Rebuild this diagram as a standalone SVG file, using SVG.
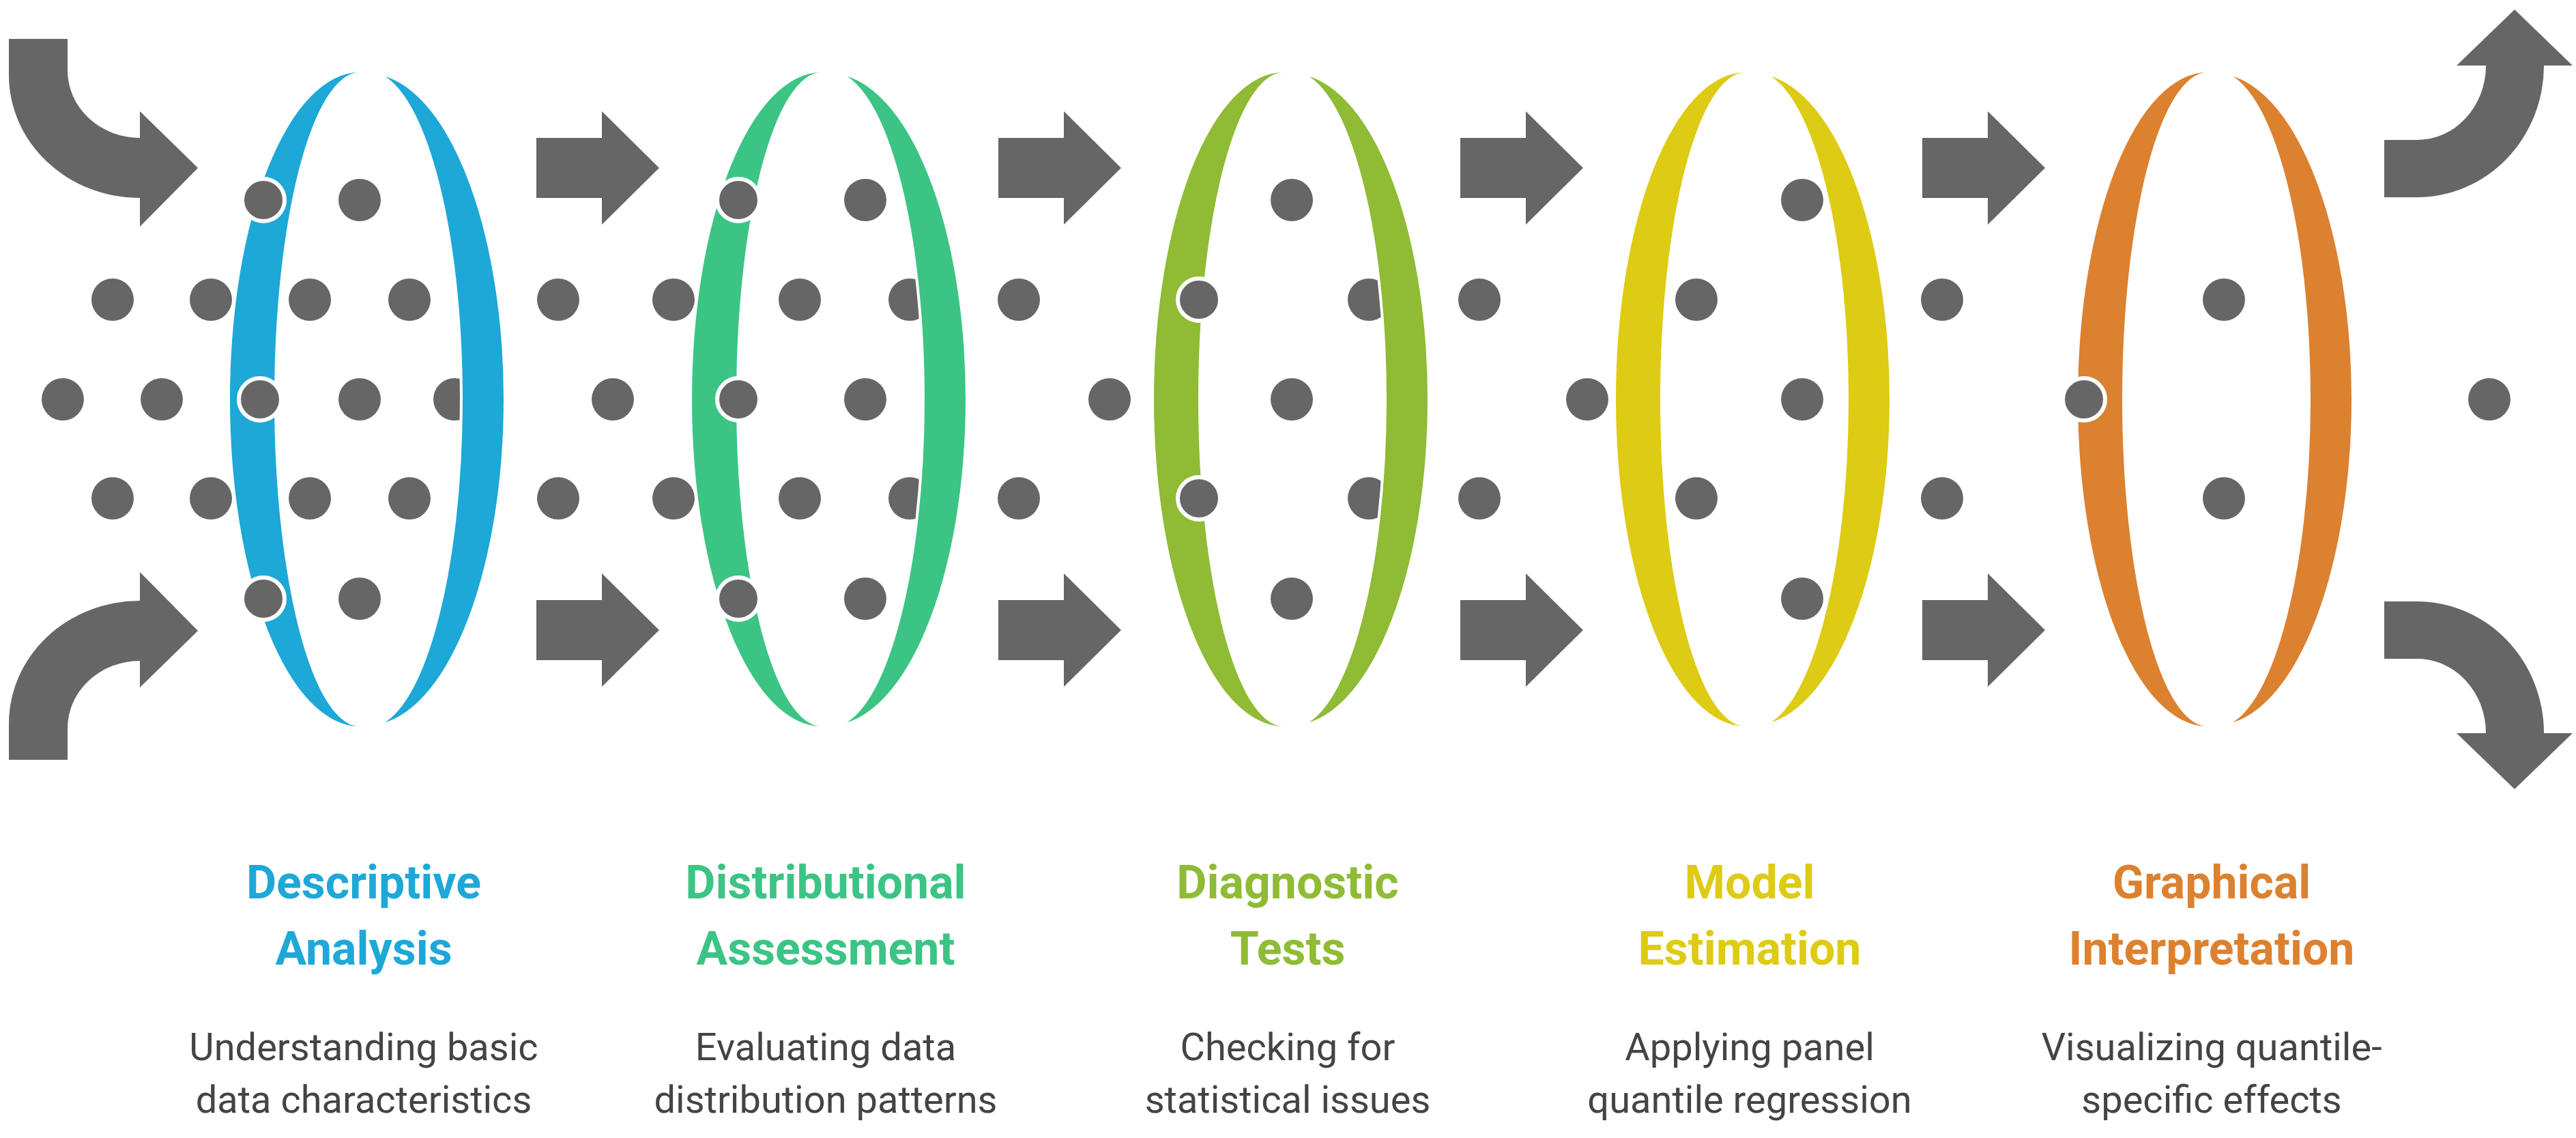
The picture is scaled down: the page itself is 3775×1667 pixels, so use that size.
<svg xmlns="http://www.w3.org/2000/svg" width="3775" height="1667" viewBox="0 0 3775 1667">
<style>
.d{fill:#666666}
.r{fill:#666666;stroke:#ffffff;stroke-width:6}
.a{fill:#666666}
.t{font-family:Roboto,"Liberation Sans",sans-serif;font-weight:bold;font-size:68px;text-anchor:middle}
.s{font-family:Roboto,"Liberation Sans",sans-serif;font-size:56px;fill:#444444;text-anchor:middle}
</style>
<defs>
<path id="lc" d="M-6,-479 A190,479 0 0 0 -6,479 A125,479 0 0 1 -6,-479 Z"/>
<path id="rc" d="M6,-479 A201,479 0 0 1 6,479 A137,479 0 0 0 6,-479 Z"/>
<path id="sa" d="M0,-44 H96 V-83 L180,0 L96,83 V44 H0 Z"/>
<circle id="dt" r="31"/>
</defs>
<rect width="3775" height="1667" fill="#ffffff"/>
<g id="connectors">
<path class="a" d="M13,57 H99 V103 A106,99 0 0 0 205,202 V163 L290,246 L205,332 V290 A192,180 0 0 1 13,110 Z"/>
<path class="a" transform="translate(0,1170) scale(1,-1)" d="M13,57 H99 V103 A106,99 0 0 0 205,202 V163 L290,246 L205,332 V290 A192,180 0 0 1 13,110 Z"/>
<use href="#sa" class="a" x="786" y="246"/><use href="#sa" class="a" x="786" y="923"/>
<use href="#sa" class="a" x="1463" y="246"/><use href="#sa" class="a" x="1463" y="923"/>
<use href="#sa" class="a" x="2140" y="246"/><use href="#sa" class="a" x="2140" y="923"/>
<use href="#sa" class="a" x="2817" y="246"/><use href="#sa" class="a" x="2817" y="923"/>
<path class="a" d="M3494,205 H3542 A101,109 0 0 0 3643,96 H3600 L3685,14 L3770,96 H3728 A186,193 0 0 1 3542,289 H3494 Z"/>
<path class="a" transform="translate(0,1170) scale(1,-1)" d="M3494,205 H3542 A101,109 0 0 0 3643,96 H3600 L3685,14 L3770,96 H3728 A186,193 0 0 1 3542,289 H3494 Z"/>
</g>
<g id="left-crescents">
<use href="#lc" x="533" y="585" fill="#1DA8D8"/>
<use href="#lc" x="1210" y="585" fill="#3CC484"/>
<use href="#lc" x="1887" y="585" fill="#8FBB35"/>
<use href="#lc" x="2564" y="585" fill="#DDCB14"/>
<use href="#lc" x="3241" y="585" fill="#DC8130"/>
</g>
<g id="dots">
<g class="d">
<use href="#dt" x="527" y="293"/><use href="#dt" x="1268" y="293"/><use href="#dt" x="1893" y="293"/><use href="#dt" x="2641" y="293"/>
<use href="#dt" x="527" y="877"/><use href="#dt" x="1268" y="877"/><use href="#dt" x="1893" y="877"/><use href="#dt" x="2641" y="877"/>
<use href="#dt" x="165" y="439"/><use href="#dt" x="309" y="439"/><use href="#dt" x="454" y="439"/><use href="#dt" x="600" y="439"/><use href="#dt" x="818" y="439"/><use href="#dt" x="987" y="439"/><use href="#dt" x="1172" y="439"/><use href="#dt" x="1333" y="439"/><use href="#dt" x="1493" y="439"/><use href="#dt" x="2006" y="439"/><use href="#dt" x="2168" y="439"/><use href="#dt" x="2486" y="439"/><use href="#dt" x="2846" y="439"/><use href="#dt" x="3259" y="439"/>
<use href="#dt" x="165" y="730"/><use href="#dt" x="309" y="730"/><use href="#dt" x="454" y="730"/><use href="#dt" x="600" y="730"/><use href="#dt" x="818" y="730"/><use href="#dt" x="987" y="730"/><use href="#dt" x="1172" y="730"/><use href="#dt" x="1333" y="730"/><use href="#dt" x="1493" y="730"/><use href="#dt" x="2006" y="730"/><use href="#dt" x="2168" y="730"/><use href="#dt" x="2486" y="730"/><use href="#dt" x="2846" y="730"/><use href="#dt" x="3259" y="730"/>
<use href="#dt" x="92" y="585"/><use href="#dt" x="237" y="585"/><use href="#dt" x="527" y="585"/><use href="#dt" x="666" y="585"/><use href="#dt" x="898" y="585"/><use href="#dt" x="1268" y="585"/><use href="#dt" x="1626" y="585"/><use href="#dt" x="1893" y="585"/><use href="#dt" x="2326" y="585"/><use href="#dt" x="2641" y="585"/><use href="#dt" x="3648" y="585"/>
</g>
<g class="r">
<use href="#dt" x="386" y="293"/><use href="#dt" x="386" y="877"/><use href="#dt" x="381" y="585"/>
<use href="#dt" x="1082" y="293"/><use href="#dt" x="1082" y="877"/><use href="#dt" x="1082" y="585"/>
<use href="#dt" x="1757" y="439"/><use href="#dt" x="1757" y="730"/>
<use href="#dt" x="3054" y="585"/>
</g>
</g>
<g id="right-crescents" stroke="#ffffff" stroke-width="4">
<use href="#rc" x="533" y="585" fill="#1DA8D8"/>
<use href="#rc" x="1210" y="585" fill="#3CC484"/>
<use href="#rc" x="1887" y="585" fill="#8FBB35"/>
<use href="#rc" x="2564" y="585" fill="#DDCB14"/>
<use href="#rc" x="3241" y="585" fill="#DC8130"/>
</g>
<g id="stage1"><text class="t" fill="#1DA8D8" x="533" y="1316">Descriptive</text><text class="t" fill="#1DA8D8" x="533" y="1413">Analysis</text><text class="s" x="533" y="1553">Understanding basic</text><text class="s" x="533" y="1630">data characteristics</text></g>
<g id="stage2"><text class="t" fill="#3CC484" x="1210" y="1316">Distributional</text><text class="t" fill="#3CC484" x="1210" y="1413">Assessment</text><text class="s" x="1210" y="1553">Evaluating data</text><text class="s" x="1210" y="1630">distribution patterns</text></g>
<g id="stage3"><text class="t" fill="#8FBB35" x="1887" y="1316">Diagnostic</text><text class="t" fill="#8FBB35" x="1887" y="1413">Tests</text><text class="s" x="1887" y="1553">Checking for</text><text class="s" x="1887" y="1630">statistical issues</text></g>
<g id="stage4"><text class="t" fill="#DDCB14" x="2564" y="1316">Model</text><text class="t" fill="#DDCB14" x="2564" y="1413">Estimation</text><text class="s" x="2564" y="1553">Applying panel</text><text class="s" x="2564" y="1630">quantile regression</text></g>
<g id="stage5"><text class="t" fill="#DC8130" x="3241" y="1316">Graphical</text><text class="t" fill="#DC8130" x="3241" y="1413">Interpretation</text><text class="s" x="3241" y="1553">Visualizing quantile-</text><text class="s" x="3241" y="1630">specific effects</text></g>
</svg>
